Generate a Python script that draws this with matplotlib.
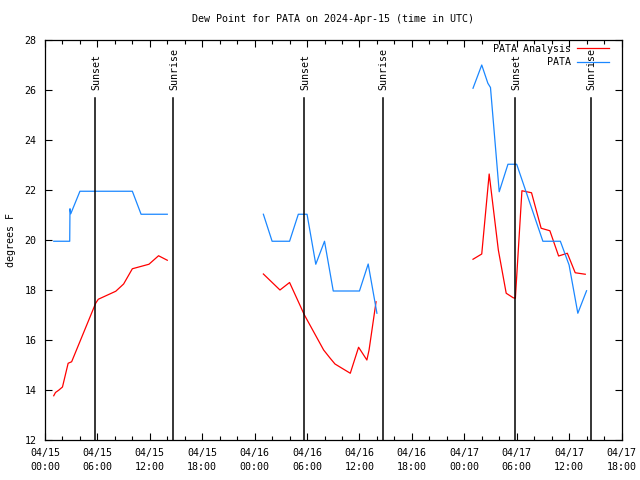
import matplotlib
matplotlib.use("Agg")
import matplotlib.pyplot as plt
from matplotlib.ticker import MultipleLocator

# hours since 04/15 00:00 UTC
analysis_t1 = [1.0, 1.2, 1.6, 2.0, 2.65, 3.05, 5.8, 6.1, 8.1, 9.0, 10.0, 11.9, 13.0, 14.0]
analysis_v1 = [13.77, 13.9, 14.0, 14.12, 15.07, 15.13, 17.47, 17.63, 17.95, 18.24, 18.85, 19.03, 19.37, 19.19]
analysis_t2 = [25, 26.9, 28, 29.7, 31.9, 32.65, 33.2, 34.0, 34.95, 35.9, 36.85, 37.1, 37.9]
analysis_v2 = [18.64, 18.0, 18.3, 17.0, 15.6, 15.27, 15.04, 14.87, 14.67, 15.71, 15.2, 15.6, 17.53]
analysis_t3 = [49, 50, 50.85, 51.9, 52.8, 53.6, 53.85, 54.6, 55.7, 56.8, 57.8, 58.8, 59.8, 60.7, 61.85]
analysis_v3 = [19.23, 19.44, 22.64, 19.6, 17.87, 17.69, 17.67, 21.97, 21.89, 20.47, 20.37, 19.36, 19.47, 18.69, 18.63]

obs_t1 = [1.0, 2.83, 2.86, 2.95, 4.0, 10.0, 11.0, 14.0]
obs_v1 = [19.95, 19.95, 21.25, 21.05, 21.95, 21.95, 21.03, 21.03]
obs_t2 = [25, 26, 28, 29, 30, 31, 32, 33, 36, 37, 38]
obs_v2 = [21.03, 19.95, 19.95, 21.03, 21.03, 19.03, 19.95, 17.96, 17.96, 19.04, 17.07]
obs_t3 = [49, 50, 50.7, 51, 52, 53, 54, 57, 59, 60, 61, 62]
obs_v3 = [26.07, 27.0, 26.27, 26.1, 21.93, 23.03, 23.03, 19.95, 19.95, 19.0, 17.07, 17.97]

sunset_t = [5.76, 29.7, 53.84]
sunrise_t = [14.7, 38.64, 62.46]

xtick_pos = [0, 6, 12, 18, 24, 30, 36, 42, 48, 54, 60, 66]
xtick_labels = ["04/15\n00:00", "04/15\n06:00", "04/15\n12:00", "04/15\n18:00",
                "04/16\n00:00", "04/16\n06:00", "04/16\n12:00", "04/16\n18:00",
                "04/17\n00:00", "04/17\n06:00", "04/17\n12:00", "04/17\n18:00"]
yticks = [12, 14, 16, 18, 20, 22, 24, 26, 28]

plt.rcParams['font.family'] = ['DejaVu Sans Mono']
plt.rcParams['font.size'] = 7.2

fig = plt.figure(figsize=(6.4, 4.8), dpi=100)
ax = fig.add_axes([45/640, 40/480, (621.5-45)/640, 400/480])

red = '#ff0000'
blue = '#1a87ff'
ax.plot(analysis_t1, analysis_v1, color=red, lw=0.9, label='PATA Analysis')
ax.plot(analysis_t2, analysis_v2, color=red, lw=0.9)
ax.plot(analysis_t3, analysis_v3, color=red, lw=0.9)
ax.plot(obs_t1, obs_v1, color=blue, lw=0.9, label='PATA')
ax.plot(obs_t2, obs_v2, color=blue, lw=0.9)
ax.plot(obs_t3, obs_v3, color=blue, lw=0.9)

for t in sunset_t:
    ax.plot([t, t], [12, 25.68], color='black', lw=1.1)
    ax.text(t + 0.1, 26.0, 'Sunset', rotation=90, ha='center', va='bottom')
for t in sunrise_t:
    ax.plot([t, t], [12, 25.68], color='black', lw=1.1)
    ax.text(t + 0.1, 26.0, 'Sunrise', rotation=90, ha='center', va='bottom')

ax.set_xlim(0, 66)
ax.set_ylim(12, 28)
ax.set_xticks(xtick_pos)
ax.set_xticklabels(xtick_labels, linespacing=1.45)
ax.xaxis.set_minor_locator(MultipleLocator(2))
ax.set_yticks(yticks)
ax.tick_params(which='both', direction='in', top=True, right=True, width=0.8)
ax.tick_params(which='major', length=5, pad=6)
ax.tick_params(which='minor', length=3)
for s in ax.spines.values():
    s.set_linewidth(0.9)

ax.set_ylabel('degrees F', labelpad=6)
ax.set_title('Dew Point for PATA on 2024-Apr-15 (time in UTC)', fontsize=7.2, pad=13)

ax.legend(loc='upper right', frameon=False, markerfirst=False, handlelength=3.2,
          borderaxespad=0.0, labelspacing=0.35, handletextpad=0.6, bbox_to_anchor=(0.985, 1.0))

fig.savefig('out.png', dpi=100)
